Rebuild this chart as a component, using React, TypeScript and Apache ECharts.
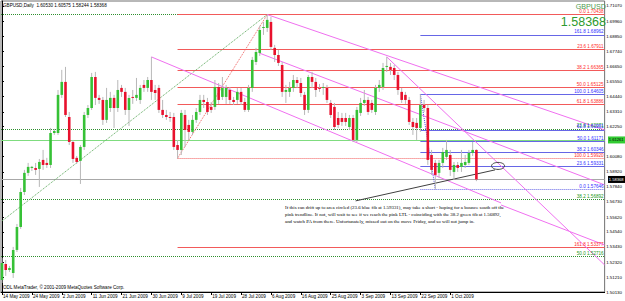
import React, { useEffect, useRef } from "react";
import * as echarts from "echarts";

const dates = [
  "14 May 2009","15 May 2009","17 May 2009","18 May 2009","19 May 2009","20 May 2009","21 May 2009","22 May 2009",
  "24 May 2009","25 May 2009","26 May 2009","27 May 2009","28 May 2009","29 May 2009","31 May 2009","1 Jun 2009",
  "2 Jun 2009","3 Jun 2009","4 Jun 2009","5 Jun 2009","7 Jun 2009","8 Jun 2009","9 Jun 2009","10 Jun 2009",
  "11 Jun 2009","12 Jun 2009","14 Jun 2009","15 Jun 2009","16 Jun 2009","17 Jun 2009","18 Jun 2009","19 Jun 2009",
  "21 Jun 2009","22 Jun 2009","23 Jun 2009","24 Jun 2009","25 Jun 2009","26 Jun 2009","28 Jun 2009","29 Jun 2009",
  "30 Jun 2009","1 Jul 2009","2 Jul 2009","3 Jul 2009","5 Jul 2009","6 Jul 2009","7 Jul 2009","8 Jul 2009",
  "9 Jul 2009","10 Jul 2009","12 Jul 2009","13 Jul 2009","14 Jul 2009","15 Jul 2009","16 Jul 2009","17 Jul 2009",
  "19 Jul 2009","20 Jul 2009","21 Jul 2009","22 Jul 2009","23 Jul 2009","24 Jul 2009","26 Jul 2009","27 Jul 2009",
  "28 Jul 2009","29 Jul 2009","30 Jul 2009","31 Jul 2009","2 Aug 2009","3 Aug 2009","4 Aug 2009","5 Aug 2009",
  "6 Aug 2009","7 Aug 2009","9 Aug 2009","10 Aug 2009","11 Aug 2009","12 Aug 2009","13 Aug 2009","14 Aug 2009",
  "16 Aug 2009","17 Aug 2009","18 Aug 2009","19 Aug 2009","20 Aug 2009","21 Aug 2009","23 Aug 2009","24 Aug 2009",
  "25 Aug 2009","26 Aug 2009","27 Aug 2009","28 Aug 2009","30 Aug 2009","31 Aug 2009","1 Sep 2009","2 Sep 2009",
  "3 Sep 2009","4 Sep 2009","6 Sep 2009","7 Sep 2009","8 Sep 2009","9 Sep 2009","10 Sep 2009","11 Sep 2009",
  "13 Sep 2009","14 Sep 2009","15 Sep 2009","16 Sep 2009","17 Sep 2009","18 Sep 2009","20 Sep 2009","21 Sep 2009",
  "22 Sep 2009","23 Sep 2009","24 Sep 2009","25 Sep 2009","27 Sep 2009","28 Sep 2009","29 Sep 2009","30 Sep 2009",
  "1 Oct 2009","2 Oct 2009","4 Oct 2009","5 Oct 2009","6 Oct 2009","7 Oct 2009","8 Oct 2009","9 Oct 2009",
];

const opens = [
  1.5101,1.5218,1.5174,1.5152,1.5321,1.5489,1.5745,1.5885,
  1.5921,1.5921,1.5914,1.5980,1.5958,1.5943,1.6177,1.6177,
  1.6456,1.6551,1.6294,1.6111,1.5995,1.5973,1.6075,1.6309,
  1.6360,1.6587,1.6434,1.6419,1.6273,1.6360,1.6434,1.6360,
  1.6507,1.6478,1.6346,1.6441,1.6434,1.6419,1.6529,1.6507,
  1.6565,1.6492,1.6507,1.6346,1.6309,1.6294,1.6294,1.6089,
  1.6053,1.6309,1.6236,1.6185,1.6273,1.6331,1.6419,1.6404,
  1.6368,1.6368,1.6514,1.6441,1.6441,1.6492,1.6419,1.6419,
  1.6478,1.6404,1.6346,1.6507,1.6697,1.6763,1.6946,1.6946,
  1.6990,1.6800,1.6748,1.6675,1.6478,1.6478,1.6507,1.6565,
  1.6543,1.6456,1.6346,1.6587,1.6551,1.6507,1.6507,1.6507,
  1.6397,1.6368,1.6287,1.6287,1.6287,1.6221,1.6287,1.6126,
  1.6324,1.6397,1.6419,1.6397,1.6331,1.6507,1.6514,1.6661,
  1.6661,1.6653,1.6602,1.6478,1.6456,1.6419,1.6258,1.6251,
  1.6214,1.6382,1.6360,1.6016,1.5958,1.5885,1.5958,1.6002,
  1.6016,1.5892,1.5943,1.5929,1.5943,1.5958,1.6031,1.6053,
];
const highs = [
  1.5262,1.5248,1.5204,1.5343,1.5511,1.5775,1.5907,1.5958,
  1.5936,1.5958,1.5987,1.6053,1.5995,1.6214,1.6207,1.6492,
  1.6639,1.6661,1.6331,1.6126,1.6009,1.6089,1.6331,1.6382,
  1.6617,1.6624,1.6456,1.6441,1.6507,1.6478,1.6456,1.6565,
  1.6529,1.6507,1.6456,1.6492,1.6580,1.6529,1.6565,1.6587,
  1.6734,1.6529,1.6529,1.6419,1.6346,1.6331,1.6324,1.6126,
  1.6346,1.6346,1.6273,1.6309,1.6360,1.6456,1.6456,1.6434,
  1.6404,1.6565,1.6543,1.6587,1.6529,1.6514,1.6441,1.6507,
  1.6507,1.6434,1.6529,1.6734,1.6800,1.6961,1.6990,1.70438,
  1.7027,1.6822,1.6785,1.6697,1.6529,1.6551,1.6602,1.6587,
  1.6580,1.6478,1.6602,1.6624,1.6580,1.6536,1.6543,1.6529,
  1.6419,1.6397,1.6331,1.6324,1.6324,1.6309,1.6309,1.6368,
  1.6434,1.6492,1.6441,1.6419,1.6529,1.6565,1.6690,1.6734,
  1.6690,1.6675,1.6624,1.6507,1.6478,1.6441,1.6287,1.6287,
  1.64605,1.6419,1.6382,1.6053,1.5980,1.5980,1.6068,1.6126,
  1.6053,1.5965,1.5965,1.6053,1.6016,1.6053,1.6111,1.60575,
];
const lows = [
  1.5079,1.5131,1.5160,1.5116,1.5306,1.5475,1.5723,1.5863,
  1.5899,1.5870,1.5782,1.5907,1.5921,1.5921,1.6163,1.6163,
  1.6434,1.6294,1.6089,1.5958,1.5951,1.5804,1.6053,1.6287,
  1.6346,1.6382,1.6390,1.6236,1.6251,1.6331,1.6214,1.6331,
  1.6441,1.6309,1.6229,1.6390,1.6412,1.6390,1.6478,1.6478,
  1.6419,1.6419,1.6324,1.6287,1.6273,1.6258,1.6053,1.5992,
  1.6016,1.6075,1.6126,1.6163,1.6251,1.6309,1.6360,1.6309,
  1.6324,1.6346,1.6390,1.6419,1.6390,1.6390,1.6382,1.6390,
  1.6382,1.6331,1.6331,1.6478,1.6675,1.6741,1.6895,1.6917,
  1.6785,1.6697,1.6668,1.6441,1.6397,1.6441,1.6478,1.6507,
  1.6441,1.6309,1.6324,1.6507,1.6441,1.6478,1.6456,1.6397,
  1.6287,1.6199,1.6214,1.6229,1.6229,1.6199,1.6111,1.6111,
  1.6302,1.6375,1.6309,1.6324,1.6309,1.6478,1.6492,1.6624,
  1.6602,1.6565,1.6456,1.6397,1.6390,1.6236,1.6163,1.6126,
  1.6185,1.6331,1.5943,1.5870,1.57646,1.5848,1.5921,1.5980,
  1.5863,1.5833,1.5892,1.5892,1.5921,1.5943,1.6009,1.58244,
];
const closes = [
  1.5226,1.5174,1.5189,1.5321,1.5489,1.5745,1.5885,1.5929,
  1.5929,1.5907,1.5965,1.5943,1.5943,1.6177,1.6192,1.6456,
  1.6551,1.6309,1.6111,1.5987,1.5965,1.6075,1.6309,1.6360,
  1.6587,1.6434,1.6419,1.6273,1.6419,1.6434,1.6360,1.6492,
  1.6478,1.6346,1.6434,1.6434,1.6456,1.6507,1.6507,1.6565,
  1.6478,1.6470,1.6346,1.6309,1.6294,1.6287,1.6075,1.6053,
  1.6324,1.6199,1.6185,1.6273,1.6331,1.6419,1.6404,1.6331,
  1.6346,1.6514,1.6419,1.6507,1.6507,1.6419,1.6404,1.6478,
  1.6404,1.6346,1.6507,1.6712,1.6770,1.6931,1.6953,1.7005,
  1.6807,1.6748,1.6690,1.6478,1.6492,1.6507,1.6565,1.6543,
  1.6470,1.6346,1.6587,1.6551,1.6492,1.6503,1.6514,1.6419,
  1.6309,1.6221,1.6236,1.6258,1.6258,1.6287,1.6126,1.6346,
  1.6397,1.6419,1.6331,1.6346,1.6507,1.6529,1.6653,1.6668,
  1.6639,1.6602,1.6492,1.6419,1.6419,1.6258,1.6221,1.6214,
  1.6382,1.6360,1.5980,1.5907,1.5870,1.5958,1.6038,1.6053,
  1.5907,1.5943,1.5921,1.5958,1.5965,1.6031,1.6053,1.58368,
];

const dateTickIdx = [0, 8, 16, 24, 32, 40, 48, 56, 64, 72, 80, 88, 96, 104, 112, 120];
const priceTicks = [1.7107, 1.6996, 1.6885, 1.6774, 1.6665, 1.6555, 1.6444, 1.6331, 1.6225, 1.6008, 1.5892, 1.5784, 1.5673, 1.5562, 1.5454, 1.5343, 1.5232, 1.5121, 1.5013];

const fibNames = ["0.0", "23.6", "38.2", "50.0", "61.8", "100.0", "161.8"];
const redFibPrices = [1.70438, 1.67911, 1.66365, 1.65125, 1.63886, 1.5992, 1.53377];
const redFibStart = 47;
const blueFibPrices = [1.57646, 1.59331, 1.60346, 1.61171, 1.61991, 1.64605, 1.68962];
const blueFibStart = 112;
const greenFibNames = ["0.0", "23.6", "38.2", "50.0"];
const greenFibPrices = [1.70438, 1.62071, 1.56892, 1.52716];

const hLinePrice = 1.61261;
const bidPrice = 1.58368;

// trendlines: [barIndex, price] pairs
const pinkLines = [
  [[71, 1.70438], [161.33, 1.6199]],
  [[68.8, 1.6763], [161.33, 1.5797]],
  [[103, 1.6734], [161.33, 1.5211]],
  [[40, 1.6734], [133.6, 1.5665]],
  [[133.6, 1.565], [161.33, 1.5357]],
];
const greenTrend = [[0, 1.5533], [71, 1.70438]];
const redTrend = [[47, 1.5992], [71, 1.70438]];
const blueTrend = [[112, 1.64605], [116, 1.57646]];
const calloutLine = [[94.67, 1.568], [132, 1.5907]];
const circleAt = [132.8, 1.5936];

const noteText = [
  "If this can drift up to area circled (23.6 blue fib at 1.59331), may take a short - hoping for a bounce south off the",
  "pink trendline. If not, will wait to see if we reach the pink LTL - coinciding with the 38.2 green fib at 1.56892,",
  "and watch PA from there. Unfortunately, missed out on the move Friday, and so will not jump in.",
];

const X_MIN = -0.2667;
const X_MAX = 161.33;
const Y_MIN = 1.5013;
const Y_MAX = 1.71433;

const SANS = "Liberation Sans";

export default function App() {
  const ref = useRef<HTMLDivElement>(null);
  useEffect(() => {
    const el = ref.current!;
    const chart = echarts.init(el, null, { renderer: "svg" });

    const lbl = (text: string, color: string) => ({
      show: true,
      formatter: text,
      position: "insideEndTop",
      color,
      fontSize: 4.6,
      fontFamily: SANS,
      distance: [1, 0.5],
    });
    const seg = (a: number[], b: number[], color: string, type: string, label?: any) => [
      { coord: a, lineStyle: { color, type, width: 1 }, label: label || { show: false } },
      { coord: b },
    ];

    const ml: any[] = [];
    greenFibPrices.forEach((p, i) => {
      ml.push(seg([X_MIN, p], [X_MAX, p], "#2f8f2f", "dotted",
        i > 0 ? lbl(greenFibNames[i] + " " + p.toFixed(5), "#229922") : undefined));
    });
    ml.push(seg([X_MIN, hLinePrice], [X_MAX, hLinePrice], "#7fdc7f", "solid"));
    ml.push(seg([X_MIN, bidPrice], [X_MAX, bidPrice], "#a8a8a8", "solid"));
    redFibPrices.forEach((p, i) => {
      ml.push(seg([redFibStart, p], [X_MAX, p], "#f25a5a", fibNames[i] === "100.0" ? "dotted" : "solid",
        lbl(fibNames[i] + " " + p.toFixed(5), "#ff2a2a")));
    });
    blueFibPrices.forEach((p, i) => {
      ml.push(seg([blueFibStart, p], [X_MAX, p], "#6666e6", fibNames[i] === "0.0" ? "dotted" : "solid",
        lbl(fibNames[i] + " " + p.toFixed(5), "#3030ff")));
    });
    ml.push(seg(greenTrend[0], greenTrend[1], "#5aa85a", "dotted"));
    ml.push(seg(redTrend[0], redTrend[1], "#f06060", "dotted"));
    ml.push(seg(blueTrend[0], blueTrend[1], "#5050e0", "dotted"));
    pinkLines.forEach((l) => ml.push(seg(l[0], l[1], "#f070f0", "solid")));
    ml.push(seg(calloutLine[0], calloutLine[1], "#404040", "solid"));

    const candleData = dates.map((_, i) => [i, opens[i], closes[i], lows[i], highs[i]]);

    chart.setOption({
      animation: false,
      backgroundColor: "#ffffff",
      grid: { left: 1, top: 1, width: 606, height: 291, show: true, borderColor: "#707070", borderWidth: 1 },
      xAxis: {
        type: "value",
        min: X_MIN,
        max: X_MAX,
        axisLine: { show: true, onZero: false, lineStyle: { color: "#000", width: 1 } },
        axisTick: { show: true, customValues: dateTickIdx, length: 3, lineStyle: { color: "#000" } },
        axisLabel: {
          show: true,
          customValues: dateTickIdx,
          formatter: (v: number) => dates[Math.round(v)] || "",
          fontSize: 4.6,
          fontFamily: SANS,
          color: "#000",
          align: "left",
          margin: 2,
          padding: [0, 0, 0, 1],
        },
        splitLine: { show: false },
      },
      yAxis: {
        type: "value",
        position: "right",
        min: Y_MIN,
        max: Y_MAX,
        axisLine: { show: true, lineStyle: { color: "#000", width: 1 } },
        axisTick: { show: true, customValues: priceTicks, length: 2, lineStyle: { color: "#000" } },
        axisLabel: {
          show: true,
          customValues: priceTicks,
          formatter: (v: number) => v.toFixed(5),
          fontSize: 4.4,
          fontFamily: SANS,
          color: "#000",
          margin: 1.5,
        },
        splitLine: { show: false },
      },
      series: [
        {
          type: "line",
          data: [],
          silent: true,
          z: 2,
          markLine: { silent: true, symbol: ["none", "none"], animation: false, data: ml, emphasis: { disabled: true } },
        },
        {
          type: "custom",
          z: 5,
          silent: true,
          data: candleData,
          encode: { x: 0, y: [1, 2, 3, 4] },
          renderItem: (params: any, api: any) => {
            const idx = api.value(0);
            const o = api.value(1);
            const c = api.value(2);
            const l = api.value(3);
            const h = api.value(4);
            const pO = api.coord([idx, o]);
            const pC = api.coord([idx, c]);
            const pL = api.coord([idx, l]);
            const pH = api.coord([idx, h]);
            const x = pO[0];
            const top = Math.min(pO[1], pC[1]);
            const bot = Math.max(pO[1], pC[1]);
            const bull = c >= o;
            return {
              type: "group",
              children: [
                { type: "line", shape: { x1: x, y1: pH[1], x2: x, y2: pL[1] }, style: { stroke: "#b8b8b8", lineWidth: 1 } },
                {
                  type: "rect",
                  shape: { x: x - 1.3, y: top, width: 2.6, height: Math.max(bot - top, 1) },
                  style: { fill: bull ? "#36c136" : "#e8112d" },
                },
              ],
            };
          },
        },
      ],
    });

    const px = (v: number[]) => chart.convertToPixel({ gridIndex: 0 }, v) as number[];
    const ell = px(circleAt);
    const gY = px([0, hLinePrice])[1];
    const bY = px([0, bidPrice])[1];

    chart.setOption({
      graphic: [
        { type: "text", left: 3, top: 3, silent: true, style: { text: "GBPUSD,Daily  1.60530 1.60575 1.58244 1.58368", fontSize: 4.6, fontFamily: SANS, fill: "#000" } },
        { type: "text", right: 19, top: 2.5, silent: true, style: { text: "GBPUSD", fontSize: 7.2, fontFamily: SANS, fill: "#4f9a4f" } },
        { type: "text", right: 19, top: 15, silent: true, style: { text: "1.58368", fontSize: 12.5, fontFamily: SANS, fill: "#2e9a2e" } },
        { type: "text", left: 3, top: 285, silent: true, style: { text: "ODL MetaTrader, © 2001-2009 MetaQuotes Software Corp.", fontSize: 4.6, fontFamily: SANS, fill: "#000" } },
        { type: "text", left: 285, top: 203.5, silent: true, style: { text: noteText.join("\n"), fontSize: 4.9, lineHeight: 7, fontFamily: "Liberation Serif", fill: "#000" } },
        { type: "ellipse", silent: true, shape: { cx: ell[0], cy: ell[1], rx: 6.5, ry: 3.5 }, style: { stroke: "#404040", fill: "none", lineWidth: 1 }, z: 10 },
        { type: "rect", silent: true, shape: { x: 608, y: gY - 3.5, width: 17, height: 7 }, style: { fill: "#33cc33" }, z: 10 },
        { type: "text", silent: true, x: 608.8, y: gY - 2.3, style: { text: hLinePrice.toFixed(5), fontSize: 4.1, fontFamily: SANS, fill: "#000" }, z: 11 },
        { type: "rect", silent: true, shape: { x: 608, y: bY - 3.5, width: 17, height: 7 }, style: { fill: "#000" }, z: 10 },
        { type: "text", silent: true, x: 608.8, y: bY - 2.3, style: { text: bidPrice.toFixed(5), fontSize: 4.1, fontFamily: SANS, fill: "#fff" }, z: 11 },
      ],
    });

    return () => chart.dispose();
  }, []);
  return <div ref={ref} style={{ position: "fixed", left: 0, top: 0, width: 625, height: 301, background: "#fff" }} />;
}
